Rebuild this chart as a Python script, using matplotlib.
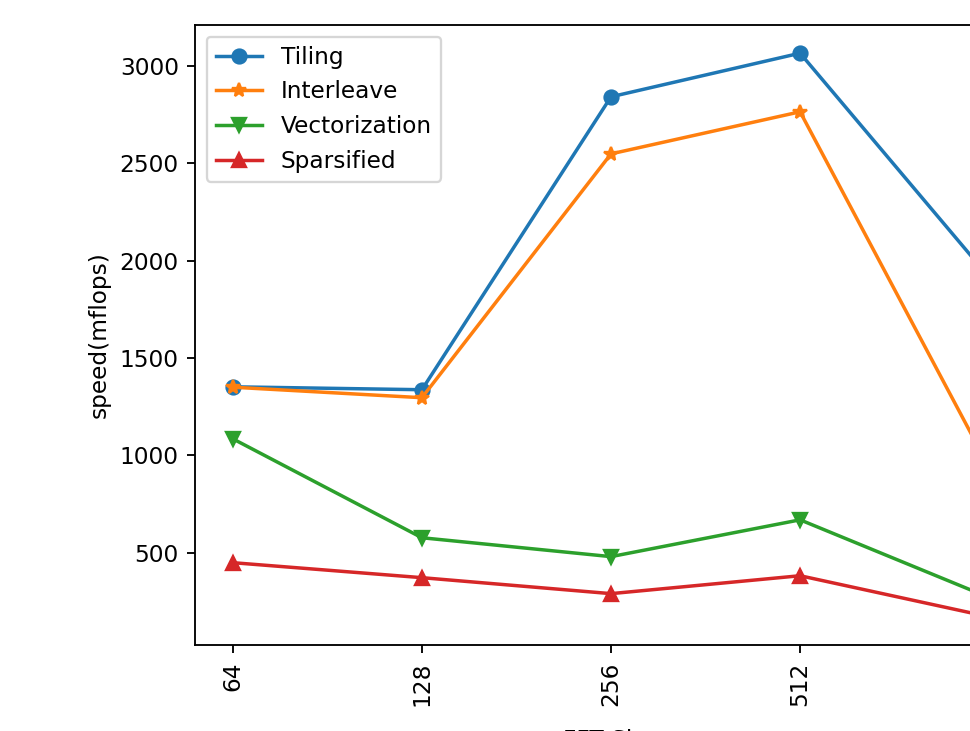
import matplotlib
matplotlib.use("Agg")
import matplotlib.pyplot as plt

sizes = ["64", "128", "256", "512", "1024"]
tiling = [1352, 1337, 2841, 3065, 1914]
interleave = [1350, 1296, 2548, 2764, 937]
vectorization = [1085, 577, 480, 669, 270]
sparsified = [449, 372, 290, 382, 171]

DPI = 167
W, H = 970, 731
fig = plt.figure(figsize=(W / DPI, H / DPI), dpi=DPI)
ax = fig.add_axes([195 / W, (H - 645) / H, 832 / W, 620 / H])

ax.plot(sizes, tiling, marker="o", label="Tiling")
ax.plot(sizes, interleave, marker="*", label="Interleave")
ax.plot(sizes, vectorization, marker="v", label="Vectorization")
ax.plot(sizes, sparsified, marker="^", label="Sparsified")

ax.set_ylabel("speed(mflops)")
ax.set_xlabel("FFT Size", labelpad=3.6)
ax.tick_params(axis="x", labelrotation=90)
ax.legend(loc="upper left")

fig.savefig("out.png", dpi=DPI)
